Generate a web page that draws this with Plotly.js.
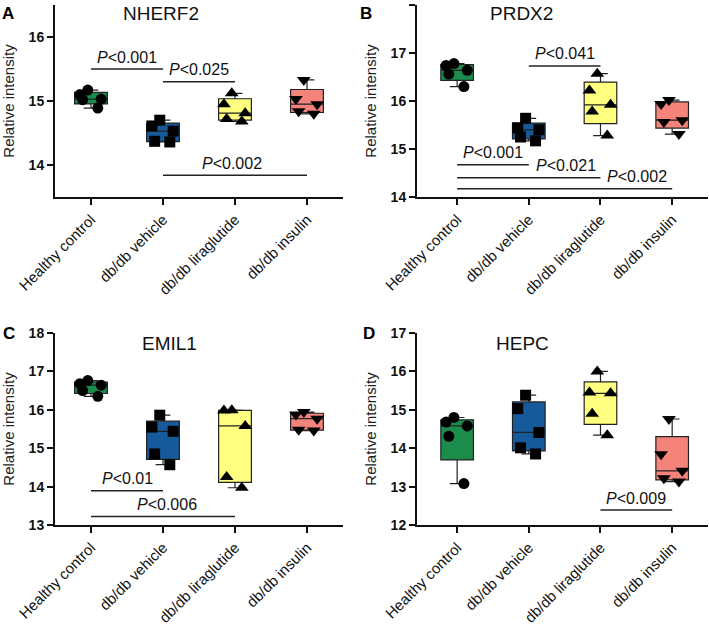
<!DOCTYPE html>
<html><head><meta charset="utf-8">
<script src="https://cdn.plot.ly/plotly-3.0.1.min.js"></script>
<style>html,body{margin:0;padding:0;background:#fff}#chart{width:709px;height:625px}</style>
</head><body><div id="chart"></div><script>
const categories = ['Healthy control', 'db/db vehicle', 'db/db liraglutide', 'db/db insulin'];
const groupColors = ['#1b8c4c', '#165a9c', '#ffff80', '#f4837b'];
const groupSymbols = ['circle', 'square', 'triangle-up', 'triangle-down'];

const panelLetters = ['A', 'B', 'C', 'D'];
const panelTitles = ['NHERF2', 'PRDX2', 'EMIL1', 'HEPC'];

// values per group: [Healthy control, vehicle, liraglutide, insulin]
const nherf2 = [[15.17, 15.10, 15.03, 15.02, 14.89], [14.70, 14.61, 14.53, 14.37, 14.36], [15.12, 14.95, 14.81, 14.72, 14.68], [15.33, 15.03, 14.95, 14.84, 14.80]];
const prdx2 = [[16.78, 16.74, 16.64, 16.56, 16.30], [15.64, 15.44, 15.40, 15.25, 15.17], [16.57, 16.22, 15.92, 15.78, 15.28], [16.02, 15.94, 15.60, 15.56, 15.31]];
const emil1 = [[16.76, 16.68, 16.64, 16.50, 16.35], [15.86, 15.55, 15.44, 14.85, 14.57], [15.99, 15.98, 15.58, 14.25, 13.97], [15.94, 15.88, 15.77, 15.48, 15.46]];
const hepc = [[14.80, 14.68, 14.58, 14.31, 13.08], [15.38, 15.03, 14.41, 14.01, 13.85], [16.00, 15.45, 15.43, 14.90, 14.34], [14.76, 13.84, 13.41, 13.22, 13.13]];

const yRanges = [[13.5, 16.5], [14, 18], [13, 18], [12, 17]];
const yTicks = [[14, 15, 16], [14, 15, 16, 17, 18], [13, 14, 15, 16, 17, 18], [12, 13, 14, 15, 16, 17]];

// significance: [from group, to group, bar level, p label, label centre]
const nherf2Sig = [[0, 1, 15.5, '0.001', 0.5], [1, 2, 15.3, '0.025', 1.5], [1, 3, 13.84, '0.002', 1.96]];
const prdx2Sig = [[1, 2, 16.73, '0.041', 1.5], [0, 1, 14.67, '0.001', 0.5], [0, 2, 14.40, '0.021', 1.52], [0, 3, 14.17, '0.002', 2.51]];
const emil1Sig = [[0, 1, 13.89, '0.01', 0.5], [0, 2, 13.22, '0.006', 1.06]];
const hepcSig = [[2, 3, 12.39, '0.009', 2.5]];

const panelData = [nherf2, prdx2, emil1, hepc];
const panelSig = [nherf2Sig, prdx2Sig, emil1Sig, hepcSig];

const W = 709, H = 625;
const xDomPx = [[55, 343], [417, 708], [55, 343], [417, 708]];
const yDomPx = [[5, 197], [5, 197], [333, 525], [333, 525]];
const xRanges = [[-0.5, 3.5], [-0.56, 3.5], [-0.5, 3.5], [-0.56, 3.5]];
const letterPos = [[8, 13], [366, 13], [9, 333], [369, 333]];
const titlePos = [[161, 13], [521, 13], [169, 343], [522, 343]];

const FONT = 'Liberation Sans, Arial, sans-serif';
const traces = [];
const layout = {
  width: W, height: H,
  margin: {l: 0, r: 0, t: 0, b: 0},
  paper_bgcolor: '#fff', plot_bgcolor: '#fff',
  showlegend: false,
  boxmode: 'overlay',
  boxgap: 0.35,
  font: {family: FONT, color: '#111'},
  shapes: [], annotations: []
};

panelData.forEach((groups, p) => {
  const xa = p === 0 ? 'x' : 'x' + (p + 1);
  const ya = p === 0 ? 'y' : 'y' + (p + 1);
  const xKey = p === 0 ? 'xaxis' : 'xaxis' + (p + 1);
  const yKey = p === 0 ? 'yaxis' : 'yaxis' + (p + 1);
  groups.forEach((vals, g) => {
    traces.push({
      type: 'box', xaxis: xa, yaxis: ya,
      x: vals.map(() => categories[g]), y: vals,
      quartilemethod: 'exclusive',
      fillcolor: groupColors[g],
      line: {color: '#222', width: 1.2},
      whiskerwidth: 0.45,
      boxpoints: 'all', jitter: 0.8, pointpos: 0,
      marker: {color: '#000', size: g >= 2 ? 12 : 11, symbol: groupSymbols[g]},
      hoverinfo: 'skip', showlegend: false
    });
  });
  layout[xKey] = {
    domain: [xDomPx[p][0] / W, xDomPx[p][1] / W], anchor: ya,
    type: 'category', categoryorder: 'array', categoryarray: categories,
    range: xRanges[p], showline: true, linewidth: 2, linecolor: '#111',
    ticks: 'outside', ticklen: 6, tickwidth: 2, tickcolor: '#111',
    tickangle: -45, tickfont: {family: FONT, size: 15, color: '#111'},
    showgrid: false, zeroline: false, fixedrange: true, automargin: false
  };
  layout[yKey] = {
    domain: [1 - yDomPx[p][1] / H, 1 - yDomPx[p][0] / H], anchor: xa,
    range: yRanges[p], tickvals: yTicks[p],
    showline: true, linewidth: 2, linecolor: '#111',
    ticks: 'outside', ticklen: 6, tickwidth: 2, tickcolor: '#111',
    tickfont: {family: FONT, size: 14, color: '#111', weight: 'bold'},
    title: {text: 'Relative intensity', font: {family: FONT, size: 15, color: '#222'}, standoff: 10},
    showgrid: false, zeroline: false, fixedrange: true, automargin: false
  };
  panelSig[p].forEach(s => {
    layout.shapes.push({type: 'line', xref: xa, yref: ya, x0: s[0], x1: s[1], y0: s[2], y1: s[2],
      line: {color: '#222', width: 1.5}});
    layout.annotations.push({xref: xa, yref: ya, x: s[4], y: s[2], yshift: 12, yanchor: 'middle', xanchor: 'center',
      text: '<i>P</i><' + s[3], showarrow: false, font: {family: FONT, size: 16, color: '#111'}});
  });
  layout.annotations.push({xref: 'paper', yref: 'paper', x: letterPos[p][0] / W, y: 1 - letterPos[p][1] / H,
    xanchor: 'center', yanchor: 'middle', text: '<b>' + panelLetters[p] + '</b>', showarrow: false,
    font: {family: FONT, size: 17, color: '#000'}});
  layout.annotations.push({xref: 'paper', yref: 'paper', x: titlePos[p][0] / W, y: 1 - titlePos[p][1] / H,
    xanchor: 'center', yanchor: 'middle', text: panelTitles[p], showarrow: false,
    font: {family: FONT, size: 19, color: '#111'}});
});

Plotly.newPlot('chart', traces, layout, {staticPlot: true, displayModeBar: false});
</script></body></html>
